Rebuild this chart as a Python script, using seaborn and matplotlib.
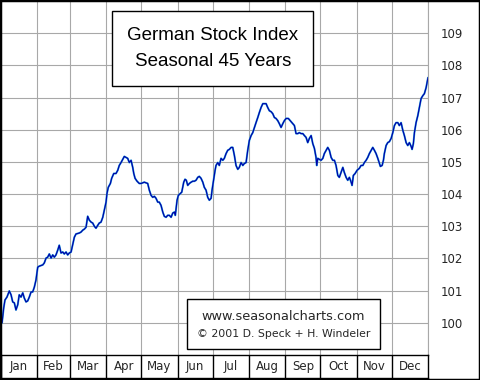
import numpy as np
import pandas as pd
import matplotlib.pyplot as plt
from matplotlib.patches import Rectangle
import seaborn as sns

# Month labels and lengths (x axis is the calendar day of the year)
months = ['Jan', 'Feb', 'Mar', 'Apr', 'May', 'Jun',
          'Jul', 'Aug', 'Sep', 'Oct', 'Nov', 'Dec']
month_days = [31, 28, 31, 30, 31, 30, 31, 31, 30, 31, 30, 31]
y_ticks = [100, 101, 102, 103, 104, 105, 106, 107, 108, 109]

# Seasonal pattern
day = [0.9, 2.3, 3.4, 5.1, 7.1, 8.6, 10.0, 11.4, 12.8, 14.3, 15.6, 17.1, 18.6, 19.9,
       21.4, 22.8, 24.2, 25.7, 27.1, 28.5, 29.9, 31.4, 32.7, 35.7, 37.0, 38.5, 39.9,
       41.3, 42.8, 44.2, 45.6, 47.0, 48.5, 49.8, 51.3, 52.8, 54.1, 55.6, 57.0, 58.4,
       59.9, 62.7, 64.1, 66.9, 68.4, 69.9, 71.2, 72.7, 74.1, 75.5, 77.0, 78.4, 79.8,
       81.2, 82.7, 84.0, 85.5, 87.0, 88.3, 89.8, 90.6, 91.7, 93.5, 94.6, 96.4, 98.3,
       99.8, 101.1, 102.6, 104.1, 105.4, 106.9, 108.3, 109.7, 111.2, 112.6, 113.5,
       114.6, 116.3, 118.2, 119.7, 122.5, 125.4, 126.8, 128.3, 129.7, 131.1, 132.5,
       134.0, 135.3, 136.8, 138.3, 139.6, 141.1, 142.5, 143.9, 145.4, 146.8, 148.2,
       149.0, 150.5, 151.6, 153.3, 154.5, 156.2, 157.3, 158.4, 159.6, 161.0, 162.5,
       163.9, 165.3, 166.7, 168.2, 169.5, 171.0, 172.5, 173.8, 175.3, 176.7, 178.1,
       179.6, 180.4, 181.9, 183.0, 183.8, 185.3, 186.6, 188.1, 189.6, 190.9, 192.4,
       193.8, 195.2, 196.7, 198.1, 199.5, 200.9, 202.4, 203.7, 205.2, 206.7, 208.0,
       209.5, 210.9, 212.3, 213.8, 215.2, 216.6, 218.0, 219.5, 220.8, 222.3, 223.8,
       225.1, 226.6, 228.0, 229.4, 230.9, 232.3, 233.7, 235.1, 236.6, 237.9, 239.4,
       240.9, 242.2, 243.7, 245.6, 247.3, 249.4, 250.8, 252.2, 253.7, 255.0, 256.5,
       258.0, 259.3, 260.8, 262.2, 263.6, 265.1, 266.5, 267.9, 269.3, 269.9, 270.8,
       272.1, 273.6, 275.1, 276.4, 277.9, 279.3, 280.7, 282.2, 283.6, 285.0, 286.4,
       287.9, 289.2, 290.7, 292.2, 293.5, 295.0, 296.4, 297.8, 299.3, 300.1, 301.2,
       302.7, 304.4, 306.3, 307.8, 309.3, 310.6, 312.1, 313.5, 314.9, 316.4, 317.8,
       319.2, 320.6, 322.1, 323.5, 324.3, 325.8, 326.9, 327.7, 329.2, 330.6, 332.0,
       333.5, 334.9, 336.3, 337.7, 339.2, 340.5, 342.0, 343.5, 344.8, 346.3, 347.7,
       349.1, 350.6, 351.4, 352.5, 353.4, 354.8, 356.3, 357.6, 359.1, 360.6, 361.9,
       363.4, 364.8, 365.0]
index = [100.00, 100.46, 100.71, 100.80, 100.99, 100.87, 100.65, 100.62, 100.40, 100.56,
         100.87, 100.80, 100.93, 100.77, 100.65, 100.68, 100.80, 100.96, 100.96, 101.11,
         101.33, 101.73, 101.76, 101.80, 101.86, 102.01, 102.04, 102.14, 102.01, 102.11,
         102.04, 102.11, 102.26, 102.41, 102.17, 102.20, 102.14, 102.20, 102.11, 102.17,
         102.20, 102.66, 102.76, 102.79, 102.82, 102.88, 102.91, 102.97, 103.31, 103.19,
         103.13, 103.10, 103.00, 102.94, 103.03, 103.10, 103.13, 103.28, 103.50, 103.75,
         104.02, 104.21, 104.33, 104.49, 104.64, 104.64, 104.74, 104.89, 104.98, 105.08,
         105.17, 105.14, 105.11, 104.98, 105.05, 104.83, 104.64, 104.49, 104.40, 104.33,
         104.33, 104.37, 104.33, 104.12, 103.96, 103.90, 103.93, 103.87, 103.75, 103.75,
         103.65, 103.44, 103.31, 103.28, 103.34, 103.34, 103.28, 103.41, 103.44, 103.34,
         103.81, 103.96, 104.02, 104.06, 104.37, 104.46, 104.43, 104.27, 104.33, 104.37,
         104.40, 104.40, 104.43, 104.52, 104.55, 104.49, 104.37, 104.21, 104.12, 103.90,
         103.81, 103.87, 104.12, 104.49, 104.74, 104.89, 104.98, 104.89, 105.11, 105.05,
         105.11, 105.26, 105.36, 105.39, 105.45, 105.45, 105.20, 104.89, 104.77, 104.83,
         104.98, 104.89, 104.95, 104.98, 105.36, 105.67, 105.82, 105.91, 106.07, 106.22,
         106.38, 106.53, 106.69, 106.81, 106.81, 106.81, 106.69, 106.59, 106.56, 106.50,
         106.38, 106.35, 106.28, 106.19, 106.07, 106.19, 106.28, 106.35, 106.35, 106.28,
         106.19, 106.13, 105.88, 105.88, 105.91, 105.88, 105.88, 105.82, 105.76, 105.60,
         105.73, 105.82, 105.57, 105.42, 105.14, 104.89, 105.11, 105.08, 105.05, 105.11,
         105.26, 105.36, 105.45, 105.36, 105.14, 105.05, 105.05, 104.89, 104.58, 104.52,
         104.67, 104.83, 104.67, 104.52, 104.43, 104.52, 104.37, 104.27, 104.58, 104.64,
         104.74, 104.80, 104.89, 104.89, 104.98, 105.05, 105.14, 105.26, 105.36, 105.45,
         105.36, 105.26, 105.11, 104.95, 104.86, 104.89, 105.05, 105.26, 105.51, 105.60,
         105.63, 105.73, 105.91, 106.13, 106.22, 106.22, 106.13, 106.22, 105.98, 105.82,
         105.60, 105.51, 105.60, 105.48, 105.39, 105.57, 105.91, 106.22, 106.44, 106.69,
         106.97, 107.06, 107.12, 107.31, 107.59, 107.62]

df = pd.DataFrame({'day': day, 'index': index})
bounds = np.cumsum([0] + month_days)
mids = (bounds[:-1] + bounds[1:]) / 2

sns.set_style('white')
plt.rcParams['font.family'] = ['DejaVu Sans']

fig = plt.figure(figsize=(4.8, 3.8), dpi=100)

# main chart
ax = fig.add_axes([1/480, 25/380, 427/480, 354/380])
sns.lineplot(data=df, x='day', y='index', color='#2aa8e0', lw=1.4, ax=ax)
sns.lineplot(data=df, x='day', y='index', color='#0000a8', lw=0.85, ax=ax)
ax.set_xlim(0, 365)
ax.set_ylim(99, 110)
ax.set_xticks(bounds[1:])
ax.set_yticks(y_ticks)
ax.grid(True, color='#a8a8a8', lw=0.8)
ax.set_axisbelow(True)
ax.tick_params(axis='x', length=0, labelbottom=False)
ax.tick_params(axis='y', length=0, left=False, labelleft=False,
               right=False, labelright=True, pad=9, labelsize=8.5)
ax.set_xlabel('')
ax.set_ylabel('')
for s in ax.spines.values():
    s.set_visible(False)
ax.spines['right'].set_visible(True)
ax.spines['right'].set_color('#a8a8a8')
ax.spines['right'].set_linewidth(0.8)

# month band
band = fig.add_axes([1/480, 2/380, 427/480, 23/380])
band.set_xlim(0, 365)
band.set_ylim(0, 1)
band.set_xticks([])
band.set_yticks([])
for s in band.spines.values():
    s.set_color('black')
    s.set_linewidth(1.0)
for b in bounds[1:-1]:
    band.axvline(b, color='black', lw=1.0)
for m, name in zip(mids, months):
    band.text(m, 0.48, name, ha='center', va='center', fontsize=8.5)

# title box
fig.add_artist(Rectangle((112/480, 1 - 86/380), 201/480, 75/380,
                         transform=fig.transFigure, fc='white', ec='black', lw=1.0, zorder=2))
fig.text(213/480, 1 - 36/380, 'German Stock Index', ha='center', va='center',
         fontsize=13.5, family='Liberation Sans', color='black', zorder=3)
fig.text(213/480, 1 - 61/380, 'Seasonal 45 Years', ha='center', va='center',
         fontsize=13.5, family='Liberation Sans', color='black', zorder=3)

# source box
fig.add_artist(Rectangle((187/480, 1 - 349/380), 193/480, 50/380,
                         transform=fig.transFigure, fc='white', ec='black', lw=1.0, zorder=2))
fig.text(283.5/480, 1 - 316/380, 'www.seasonalcharts.com', ha='center', va='center',
         fontsize=9.3, zorder=3)
fig.text(283.5/480, 1 - 334/380, '\u00a9 2001 D. Speck + H. Windeler', ha='center', va='center',
         fontsize=7.8, zorder=3)

# outer frame
fig.add_artist(Rectangle((0, 0), 1, 1, transform=fig.transFigure, fill=False,
                         ec='black', lw=2.5, zorder=5))

fig.savefig('out.png', dpi=100)
